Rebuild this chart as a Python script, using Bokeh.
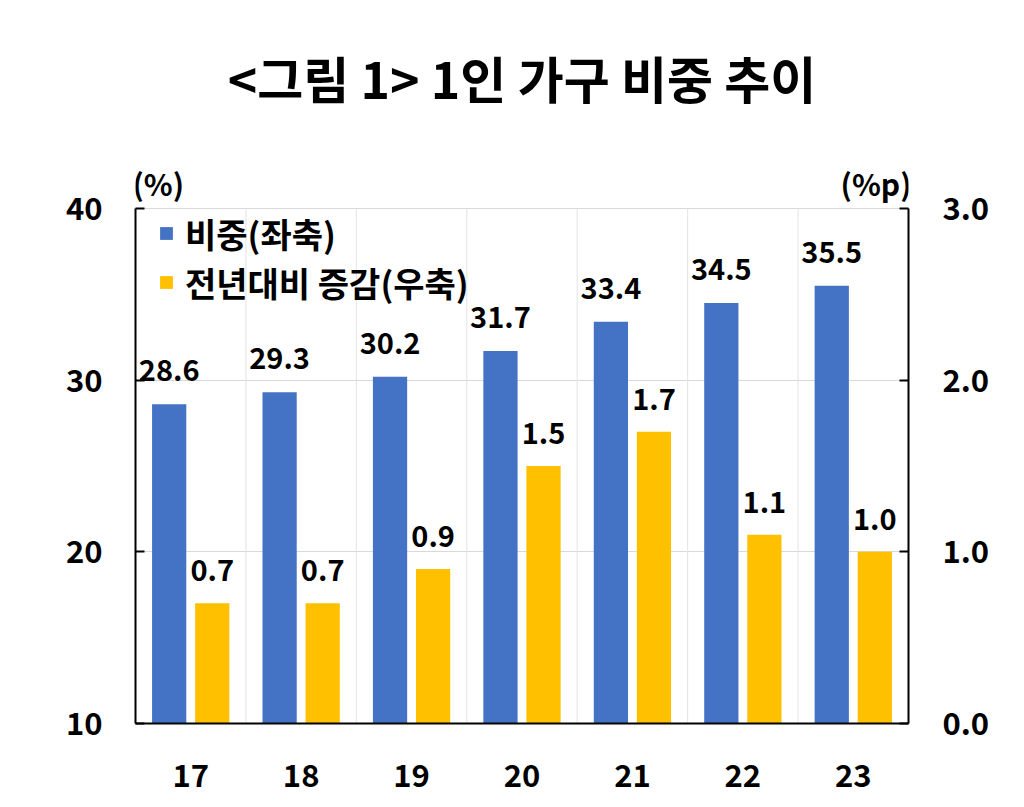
from bokeh.plotting import figure
from bokeh.models import (Range1d, LinearAxis, FixedTicker, ColumnDataSource, LabelSet,
                          Label, Legend, LegendItem, Title)
from bokeh.core.properties import value
from bokeh.transform import dodge
from bokeh.embed import file_html
from bokeh.resources import INLINE

years = ["17", "18", "19", "20", "21", "22", "23"]
share = [28.6, 29.3, 30.2, 31.7, 33.4, 34.5, 35.5]
change = [0.7, 0.7, 0.9, 1.5, 1.7, 1.1, 1.0]
left_ticks = [10, 20, 30, 40]
right_ticks = [0.0, 1.0, 2.0, 3.0]
title_text = "<그림 1> 1인 가구 비중 추이"
left_unit = "(%)"
right_unit = "(%p)"
legend_share = "비중(좌축)"
legend_change = "전년대비 증감(우축)"

FONT = "Noto Sans CJK KR"
BLUE = "#4472C4"
YELLOW = "#FFC000"

# frame geometry (pixels)
W, H = 1008, 801
FL, FR, FT, FB = 135, 100, 150, 78
AXIS_TOP_PX = 208          # pixel row of the 40 / 3.0 gridline
frame_h = H - FT - FB
px_per_unit = (frame_h - (AXIS_TOP_PX - FT)) / (left_ticks[-1] - left_ticks[0])
ly_end = left_ticks[-1] + (AXIS_TOP_PX - FT) / px_per_unit
ry_scale = (right_ticks[-1] - right_ticks[0]) / (left_ticks[-1] - left_ticks[0])
ry_end = right_ticks[-1] + (ly_end - left_ticks[-1]) * ry_scale

xs = [i + 0.5 for i in range(len(years))]
src = ColumnDataSource(dict(
    x=xs, share=share, change=change,
    share_lbl=[f"{v:.1f}" for v in share],
    change_lbl=[f"{v:.1f}" for v in change],
))

p = figure(width=W, height=H, output_backend="svg", toolbar_location=None,
           x_range=Range1d(0, len(years)), y_range=Range1d(left_ticks[0], ly_end),
           min_border_left=FL, min_border_right=FR, min_border_top=FT, min_border_bottom=FB)
p.extra_y_ranges = {"r": Range1d(right_ticks[0], ry_end)}
p.outline_line_color = None
p.background_fill_color = "white"

# vertical separators between categories (grid)
bounds_x = list(range(1, len(years)))
p.segment(x0=bounds_x, x1=bounds_x, y0=[left_ticks[0]] * len(bounds_x),
          y1=[left_ticks[-1]] * len(bounds_x), line_color="#e3e3e3", line_width=1)

b1 = p.vbar(x=dodge("x", -0.195), top="share", bottom=left_ticks[0], width=0.31, source=src,
            fill_color=BLUE, line_color=None)
b2 = p.vbar(x=dodge("x", 0.195), top="change", bottom=0, width=0.31, source=src,
            fill_color=YELLOW, line_color=None, y_range_name="r")

lab_style = dict(text_font=value(FONT), text_font_size=value("29px"),
                 text_font_style=value("bold"),
                 text_align=value("center"), text_baseline=value("alphabetic"),
                 text_color=value("black"))
p.add_layout(LabelSet(x=dodge("x", -0.195), y="share", text="share_lbl", source=src,
                      y_offset=23, **lab_style))
p.add_layout(LabelSet(x=dodge("x", 0.195), y="change", text="change_lbl", source=src,
                      y_offset=22, y_range_name="r", **lab_style))

def style_axis(ax):
    ax.axis_line_color = "black"
    ax.axis_line_width = 2
    ax.major_tick_in = 9
    ax.major_tick_out = 0
    ax.major_tick_line_width = 2
    ax.minor_tick_line_color = None
    ax.major_label_text_font = FONT
    ax.major_label_text_font_size = "31px"
    ax.major_label_text_font_style = "bold"
    ax.major_label_text_color = "black"

yl = p.yaxis[0]
style_axis(yl)
yl.ticker = FixedTicker(ticks=left_ticks)
yl.bounds = (left_ticks[0], left_ticks[-1])
yl.major_label_standoff = 33

yr = LinearAxis(y_range_name="r", ticker=FixedTicker(ticks=right_ticks))
style_axis(yr)
yr.bounds = (right_ticks[0], right_ticks[-1])
yr.major_label_standoff = 34
yr.major_label_overrides = {t: f"{t:.1f}" for t in right_ticks}
p.add_layout(yr, "right")

xa = p.xaxis[0]
style_axis(xa)
xa.major_tick_in = 0
xa.ticker = FixedTicker(ticks=xs)
xa.major_label_overrides = {x: y for x, y in zip(xs, years)}
xa.major_label_standoff = 40
xa.major_label_text_font_size = "31px"

p.ygrid.ticker = FixedTicker(ticks=left_ticks[1:])
p.ygrid.grid_line_color = "#d9d9d9"
p.ygrid.grid_line_width = 1
p.xgrid.grid_line_color = None

unit_style = dict(text_font=FONT, text_font_size="30px", text_font_style="bold",
                  text_color="black", text_baseline="bottom")
p.add_layout(Label(x=0, y=left_ticks[-1], text=left_unit, x_offset=-3, y_offset=4,
                   text_align="left", **unit_style))
p.add_layout(Label(x=len(years), y=left_ticks[-1], text=right_unit, x_offset=3, y_offset=4,
                   text_align="right", **unit_style))

LEG_FS = 34
item_h = 49.5

def make_legend(label, renderer, loc):
    lg = Legend(items=[LegendItem(label=label, renderers=[renderer])], location=loc)
    lg.label_text_font = FONT
    lg.label_text_font_size = f"{LEG_FS}px"
    lg.label_text_font_style = "bold"
    lg.label_text_color = "black"
    lg.glyph_width = 16
    lg.glyph_height = 16
    lg.label_standoff = 11
    lg.spacing = 0
    lg.padding = 0
    lg.margin = 0
    lg.border_line_color = None
    lg.background_fill_alpha = 0
    return lg

frame_bottom_px = H - FB
p.add_layout(make_legend(legend_share, b1, (23, frame_bottom_px - (233 + item_h / 2))))
p.add_layout(make_legend(legend_change, b2, (23, frame_bottom_px - (282 + item_h / 2))))

t = Title(text=title_text, align="center", text_font=FONT, text_font_size="50px",
          text_font_style="bold", text_color="black", standoff=76)
p.add_layout(t, "above")

open("out.html", "w").write(file_html(p, INLINE))
